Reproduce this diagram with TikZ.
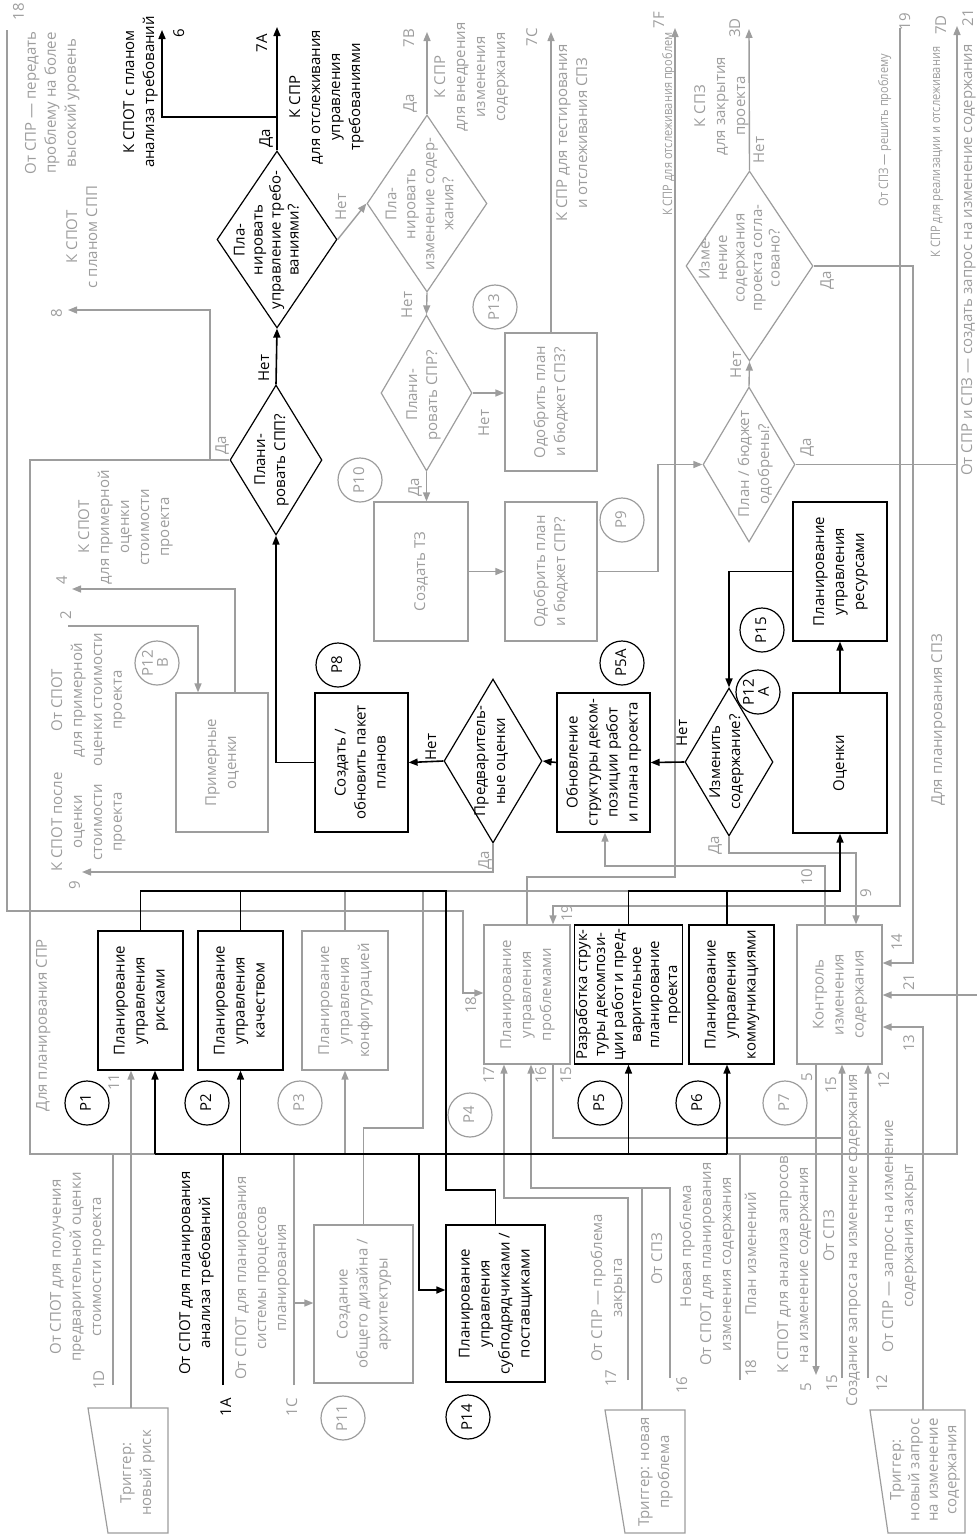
\documentclass[tikz,border=0pt]{standalone}
\usepackage{fontspec}
\setmainfont{Open Sans}
\usepackage{graphicx}
\usetikzlibrary{arrows.meta,shapes.geometric}

\definecolor{gr}{HTML}{9D9D9D}

% text turned to read bottom-to-top
\newcommand{\vt}[2][20pt]{\rotatebox{90}{\fontsize{15}{#1}\selectfont
  \begin{tabular}{@{}c@{}}#2\end{tabular}}}
% narrower text for the crowded top labels
\newcommand{\sm}[1]{\scalebox{0.85}[1]{\fontsize{13}{16}\selectfont #1}}

\tikzset{
  kline/.style={draw=black, line width=1.6pt},
  gline/.style={draw=gr, line width=1.4pt},
  karr/.style={kline, -{Triangle[length=9pt,width=7pt]}},
  garr/.style={gline, -{Triangle[length=9pt,width=7pt]}},
  kbox/.style={draw=black, line width=1.2pt, inner sep=0pt, text=black},
  gbox/.style={draw=gr, line width=1.2pt, inner sep=0pt, text=gr},
  kdia/.style={kbox, diamond},
  gdia/.style={gbox, diamond},
  kcirc/.style={kbox, circle, minimum size=44pt},
  gcirc/.style={gbox, circle, minimum size=44pt},
  gshape/.style={draw=gr, line width=1.2pt},
  ktxt/.style={inner sep=0pt, text=black},
  gtxt/.style={inner sep=0pt, text=gr},
  sz/.style 2 args={minimum width=#1pt, minimum height=#2pt}
}

\begin{document}
\begin{tikzpicture}[x=1pt, y=-1pt]
\useasboundingbox (0,0) rectangle (977,1534);

% Process boxes
\node[kbox, sz={85}{139}] (rsk) at (140.5,1000.5) {\vt{Планирование\\управления\\рисками}};
\node[kbox, sz={85}{139}] (qlt) at (240.5,1000.5) {\vt{Планирование\\управления\\качеством}};
\node[gbox, sz={86}{139}] (cfg) at (345,1000.5) {\vt{Планирование\\управления\\конфигурацией}};
\node[gbox, sz={86}{139}] (prb) at (527,994.5) {\vt{Планирование\\управления\\проблемами}};
\node[kbox, sz={107}{139}] (wbs) at (628.5,994.5) {\vt[18pt]{Разработка струк-\\туры декомпози-\\ции работ и пред-\\варительное\\планирование\\проекта}};
\node[kbox, sz={85}{139}] (com) at (731.5,994.5) {\vt{Планирование\\управления\\коммуникациями}};
\node[gbox, sz={85}{139}] (ctl) at (839.5,994.5) {\vt{Контроль\\изменения\\содержания}};
\node[kbox, sz={94}{140}] (est) at (840,763) {\vt{Оценки}};
\node[kbox, sz={94}{139}] (res) at (840,571.5) {\vt{Планирование\\управления\\ресурсами}};
\node[kbox, sz={93}{139}] (upd) at (603.5,762.5) {\vt{Обновление\\структуры деком-\\позиции работ\\и плана проекта}};
\node[kbox, sz={93}{139}] (pkg) at (361.5,762.5) {\vt{Создать /\\обновить пакет\\планов}};
\node[gbox, sz={92}{139}] (rgh) at (222,762.5) {\vt{Примерные\\оценки}};
\node[gbox, sz={94}{139}] (tz) at (421,571.5) {\vt{Создать ТЗ}};
\node[gbox, sz={92}{139}] (apr) at (551,571.5) {\vt{Одобрить план\\и бюджет СПР?}};
\node[gbox, sz={92}{138}] (apz) at (551,402) {\vt{Одобрить план\\и бюджет СПЗ?}};
\node[kbox, sz={99}{157}] (sub) at (495.5,1303.5) {\vt{Планирование\\управления\\субподрядчиками /\\поставщиками}};
\node[gbox, sz={99}{158}] (dsg) at (363.5,1304) {\vt{Создание\\общего дизайна /\\архитектуры}};

% Decisions
\node[kdia, sz={120}{177}] (dreq) at (277,239.5) {};
\node[ktxt] (dreqt) at (268,240) {\vt[18pt]{Пла-\\нировать\\управление требо-\\ваниями?}};
\node[kdia, sz={92}{150}] (dspp) at (276,460) {};
\node[ktxt] (dsppt) at (271,460) {\vt{Плани-\\ровать СПП?}};
\node[gdia, sz={120}{177}] (dscp) at (427,203.5) {};
\node[gtxt] (dscpt) at (421,204) {\vt[19pt]{Пла-\\нировать\\изменение содер-\\жания?}};
\node[gdia, sz={91}{156}] (dspr) at (426.5,393) {};
\node[gtxt] (dsprt) at (423,395) {\vt{Плани-\\ровать СПР?}};
\node[kdia, sz={98}{164}] (dpre) at (493,761) {};
\node[ktxt] (dpret) at (491,761) {\vt{Предваритель-\\ные оценки}};
\node[kdia, sz={88}{148}] (dchg) at (729,762) {};
\node[ktxt] (dchgt) at (726,762) {\vt{Изменить\\содержание?}};
\node[gdia, sz={92}{155}] (dbud) at (749,464.5) {};
\node[gtxt] (dbudt) at (755,464) {\vt{План / бюджет\\одобрены?}};
\node[gdia, sz={127}{190}] (dagr) at (749.5,266) {};
\node[gtxt] (dagrt) at (741,258) {\vt[17.5pt]{Изме-\\нение\\содержания\\проекта согла-\\совано?}};

% Process numbers
\node[kcirc] (p1) at (87,1103) {\vt{P1}};
\node[kcirc] (p2) at (207,1103) {\vt{P2}};
\node[gcirc] (p3) at (300,1103) {\vt{P3}};
\node[gcirc] (p4) at (470,1115) {\vt{P4}};
\node[kcirc] (p5) at (600,1103) {\vt{P5}};
\node[kcirc] (p6) at (698,1103) {\vt{P6}};
\node[gcirc] (p7) at (785,1103) {\vt{P7}};
\node[kcirc] (p8) at (338,665) {\vt{P8}};
\node[kcirc] (p5a) at (622,663) {\vt{P5A}};
\node[gcirc] (p9) at (622,520) {\vt{P9}};
\node[gcirc] (p10) at (360,480) {\vt{P10}};
\node[gcirc] (p11) at (343,1418) {\vt{P11}};
\node[kcirc] (p12a) at (758,692) {\vt[14pt]{P12\\A}};
\node[gcirc] (p12b) at (157,663) {\vt[14pt]{P12\\B}};
\node[gcirc] (p13) at (495,307) {\vt{P13}};
\node[kcirc] (p14) at (468,1417) {\vt{P14}};
\node[kcirc] (p15) at (762,630) {\vt{P15}};

% Triggers
\draw[gshape] (88,1408) -- (168,1408) -- (168,1533) -- (108,1533) -- cycle;
\node[gtxt] (trg1) at (137,1473) {\vt{Триггер:\\новый риск}};
\draw[gshape] (605,1410) -- (685,1410) -- (685,1533) -- (625,1533) -- cycle;
\node[gtxt] (trg2) at (655,1472) {\vt{Триггер: новая\\проблема}};
\draw[gshape] (870,1410) -- (965,1410) -- (965,1533) -- (888,1533) -- cycle;
\node[gtxt] (trg3) at (925,1470) {\vt[18.5pt]{Триггер:\\новый запрос\\на изменение\\содержания}};
\coordinate (t1top) at (131,1408);
\coordinate (t2top) at (642,1410);
\coordinate (t3top) at (923,1410);

% Connector ends
\coordinate (o6)  at (162,30);
\coordinate (o7A) at (277,27);
\coordinate (o8)  at (68,310);
\coordinate (o4)  at (72,589);
\coordinate (i2)  at (68,626);
\coordinate (o9)  at (82,872);
\coordinate (o7B) at (427,32);
\coordinate (o7C) at (551,32);
\coordinate (o7F) at (675,28);
\coordinate (o3D) at (749,29);
\coordinate (i19) at (900,28);
\coordinate (o7D) at (957,26);
\coordinate (i21) at (977,995);
\coordinate (i18) at (7,30);
\coordinate (i1D) at (113,1385);
\coordinate (i1A) at (223,1385);
\coordinate (i1C) at (294,1385);
\coordinate (i17) at (628,1380);
\coordinate (i16) at (670,1378);
\coordinate (i18b) at (740,1380);
\coordinate (o5)  at (816,1375);
\coordinate (i15) at (842,1378);
\coordinate (i12) at (868,1378);

% Junctions
\coordinate (fA) at (30,1154);
\coordinate (fB) at (957,1154);
\coordinate (busL) at (155,1154);
\coordinate (busR) at (727,1154);
\coordinate (busS) at (419,1154);
\coordinate (colA) at (446,891);
\coordinate (colB) at (446,1190);
\coordinate (colE) at (840,891);
\coordinate (dsgJ) at (423,1128);
\coordinate (j6)  at (277,117);
\coordinate (j8)  at (210,460);
\coordinate (j9)  at (658,571.5);
\coordinate (j14) at (913,266);
\coordinate (j18) at (463,911);
\coordinate (j19) at (553,906);
\coordinate (j7F) at (675,877);
\coordinate (j10) at (825,866);
\coordinate (j9b) at (856,853);
\coordinate (j15) at (842,1138);
\coordinate (j17) at (504,1198);
\coordinate (j16) at (531,1188);
\coordinate (j1C) at (294,1303);

% Gray connectors
\draw[garr] (dspp.west) -| (fA) -- (fB) -- (o7D);
\draw[garr] (j8) |- (o8);
\draw[garr] (dreq.east) -- (dscp.west);
\draw[garr] (dscp.north) -- (o7B);
\draw[garr] (dscp.south) -- (dspr.north);
\draw[garr] (dspr.east) -- (dspr.east -| apz.west);
\draw[garr] (dspr.south) -- (dspr.south |- tz.north);
\draw[garr] (tz.east) -- (apr.west);
\draw[garr] (apr.east) -- (j9) |- (dbud.west);
\draw[garr] (apz.north) -- (o7C);
\draw[garr] (dbud.north) -- (dagr.south);
\draw[garr] (dagr.north) -- (o3D);
\draw[garr] (dagr.east) -- (j14) |- ([yshift=31.5pt]ctl.east);
\draw[gline] (dbud.east) -- (dbud.east -| o7D);
\draw[garr] (i2) -| ([xshift=-24pt]rgh.north);
\draw[garr] ([xshift=13pt]rgh.north) |- (o4);
\draw[garr] (dpre.south) |- (o9);
\draw[garr] (i18) |- (j18) |- ([yshift=1.5pt]prb.west);
\draw[garr] (i19) |- (j19) -- (j19 |- prb.north);
\draw[garr] (prb.north) |- (j7F) -- (o7F);
\draw[garr] (j10 |- ctl.north) -- (j10) -| ([xshift=1.5pt]upd.south);
\draw[garr] (dchg.south) |- (j9b) -- (j9b |- ctl.north);
\draw[garr] (i21) -- (i21 -| ctl.east);
\draw[garr] (t3top) |- ([yshift=-32.5pt]ctl.east);
\draw[garr] ([xshift=26pt]prb.south) |- (j15) -- (j15 |- ctl.south);
\draw[gline] (i15) -- (j15);
\draw[garr] (i12) -- (i12 |- ctl.south);
\draw[garr] (o5 |- ctl.south) -- (o5);
\draw[garr] (i17) |- (j17) -- (j17 |- prb.south);
\draw[garr] (i16) |- (j16) -- (j16 |- prb.south);
\draw[gline] (t2top) -- (t2top |- j16);
\draw[gline] (i18b) -- (i18b |- fA);
\draw[gline] (i1D) -- (i1D |- fA);
\draw[garr] (t1top) -- (t1top |- rsk.south);
\draw[gline] (i1C) -- (i1C |- fA);
\draw[garr] (j1C) -- (j1C -| dsg.west);
\draw[garr] (cfg.south |- fA) -- (cfg.south);
\draw[gline] (cfg.north) |- (wbs.north |- colA);
\draw[gline] (dsg.north) |- (dsgJ) -- (dsgJ |- colA);

% Black connectors
\draw[kline] (i1A) -- (i1A |- busL);
\draw[kline] (busL) -- (busR);
\draw[karr] (busL) -- (busL |- rsk.south);
\draw[karr] (qlt.south |- busL) -- (qlt.south);
\draw[karr] (busS) |- ([yshift=13.5pt]sub.west);
\draw[karr] (wbs.south |- busL) -- (wbs.south);
\draw[karr] (busR) -- (busR |- com.south);
\draw[kline] (rsk.north) |- (colA) -- (colB) -| (sub.north);
\draw[kline] (qlt.north) -- (qlt.north |- colA);
\draw[karr] (wbs.north) |- (colE) -- (est.south);
\draw[kline] (busR |- com.north) -- (busR |- colA);
\draw[karr] (est.north) -- (res.south);
\draw[karr] (res.west) -| (dchg.north);
\draw[karr] (dchg.west) -- (upd.east);
\draw[karr] (upd.west) -- (dpre.east);
\draw[karr] (dpre.west) -- (pkg.east);
\draw[karr] (pkg.west) -| (dspp.south);
\draw[karr] (dspp.north) -- (dreq.south);
\draw[karr] (dreq.north) -- (o7A);
\draw[karr] (j6) -| (o6);

% Labels, top
\node[gtxt] (n18a) at (20,12) {\vt{18}};
\node[gtxt] (tesc) at (52,103) {\vt{От СПР — передать\\проблему на более\\высокий уровень}};
\node[gtxt] (tspp) at (83,237) {\vt{К СПОТ\\с планом СПП}};
\node[gtxt] (n8) at (58,313) {\vt{8}};
\node[ktxt] (treq) at (140,92) {\vt{К СПОТ с планом\\анализа требований}};
\node[ktxt] (n6) at (180,33) {\vt{6}};
\node[ktxt] (ttrk) at (326,97) {\vt{К СПР\\для отслеживания\\управления\\требованиями}};
\node[ktxt] (n7A) at (263,43) {\vt{7A}};
\node[ktxt] (lda1) at (266,138) {\vt{Да}};
\node[ktxt] (lnet1) at (265,368) {\vt{Нет}};
\node[gtxt] (lnet2) at (342,207) {\vt{Нет}};
\node[gtxt] (lda2) at (410,103) {\vt{Да}};
\node[gtxt] (n7B) at (410,38) {\vt{7B}};
\node[gtxt] (tscp) at (471,77) {\vt{К СПР\\для внедрения\\изменения\\содержания}};
\node[gtxt] (lnet3) at (408,305) {\vt{Нет}};
\node[gtxt] (n7C) at (533,37) {\vt{7C}};
\node[gtxt] (ttst) at (573,133) {\vt{К СПР для тестирования\\и отслеживания СПЗ}};
\node[gtxt] (lnet4) at (485,423) {\vt{Нет}};
\node[gtxt] (lda3) at (415,487) {\vt{Да}};
\node[gtxt] (n7F) at (660,20) {\vt{7F}};
\node[gtxt] (tprb) at (668,124) {\vt{\sm{К СПР для отслеживания проблем}}};
\node[gtxt] (n3D) at (736,28) {\vt{3D}};
\node[gtxt] (tcls) at (721,106) {\vt{К СПЗ\\для закрытия\\проекта}};
\node[gtxt] (lnet5) at (760,150) {\vt{Нет}};
\node[gtxt] (lnet6) at (737,365) {\vt{Нет}};
\node[gtxt] (lda4) at (827,280) {\vt{Да}};
\node[gtxt] (n19) at (906,22) {\vt{19}};
\node[gtxt] (tsol) at (884,130) {\vt{\sm{От СПЗ — решить проблему}}};
\node[gtxt] (n7D) at (942,25) {\vt{7D}};
\node[gtxt] (timp) at (936,152) {\vt{\sm{К СПР для реализации и отслеживания}}};
\node[gtxt] (n21) at (969,18) {\vt{21}};
\node[gtxt] (tcr) at (968,260) {\vt{От СПР и СПЗ — создать запрос на изменение содержания}};
\node[gtxt] (lda5) at (807,447) {\vt{Да}};

% Labels, middle
\node[gtxt] (tspz) at (938,720) {\vt{Для планирования СПЗ}};
\node[gtxt] (tspr) at (43,1025) {\vt{Для планирования СПР}};
\node[gtxt] (tro) at (125,527) {\vt{К СПОТ\\для примерной\\оценки\\стоимости\\проекта}};
\node[gtxt] (n4) at (63,580) {\vt{4}};
\node[gtxt] (n2) at (67,615) {\vt{2}};
\node[gtxt] (tri) at (88,700) {\vt{От СПОТ\\для примерной\\оценки стоимости\\проекта}};
\node[gtxt] (lda6) at (222,445) {\vt{Да}};
\node[gtxt] (taft) at (88,822) {\vt{К СПОТ после\\оценки\\стоимости\\проекта}};
\node[gtxt] (n9) at (76,885) {\vt{9}};
\node[ktxt] (lnet7) at (432,747) {\vt{Нет}};
\node[gtxt] (lda7) at (485,860) {\vt{Да}};
\node[ktxt] (lnet8) at (683,733) {\vt{Нет}};
\node[gtxt] (lda8) at (715,845) {\vt{Да}};
\node[gtxt] (n10) at (808,877) {\vt{10}};
\node[gtxt] (n9b) at (867,893) {\vt{9}};
\node[gtxt] (n19b) at (568,913) {\vt{19}};
\node[gtxt] (n18b) at (472,1005) {\vt{18}};
\node[gtxt] (n11) at (115,1082) {\vt{11}};
\node[gtxt] (n17a) at (490,1075) {\vt{17}};
\node[gtxt] (n16a) at (542,1075) {\vt{16}};
\node[gtxt] (n15a) at (567,1075) {\vt{15}};
\node[gtxt] (n14) at (898,942) {\vt{14}};
\node[gtxt] (n21b) at (910,982) {\vt{21}};
\node[gtxt] (n13) at (910,1043) {\vt{13}};
\node[gtxt] (n5a) at (808,1077) {\vt{5}};
\node[gtxt] (n15b) at (832,1085) {\vt{15}};
\node[gtxt] (n12a) at (885,1080) {\vt{12}};

% Labels, bottom
\node[gtxt] (tpre) at (77,1267) {\vt{От СПОТ для получения\\предварительной оценки\\стоимости проекта}};
\node[gtxt] (n1D) at (100,1380) {\vt{1D}};
\node[ktxt] (tan) at (196,1273) {\vt{От СПОТ для планирования\\анализа требований}};
\node[ktxt] (n1A) at (227,1407) {\vt{1A}};
\node[gtxt] (tsys) at (262,1278) {\vt{От СПОТ для планирования\\системы процессов\\планирования}};
\node[gtxt] (n1C) at (293,1407) {\vt{1C}};
\node[gtxt] (tcl) at (608,1288) {\vt{От СПР — проблема\\закрыта}};
\node[gtxt] (n17b) at (612,1378) {\vt{17}};
\node[gtxt] (tfz) at (658,1259) {\vt{От СПЗ}};
\node[gtxt] (n16b) at (683,1385) {\vt{16}};
\node[gtxt] (tnew) at (687,1246) {\vt{Новая проблема}};
\node[gtxt] (tchg) at (717,1264) {\vt{От СПОТ для планирования\\изменения содержания}};
\node[gtxt] (n18c) at (752,1368) {\vt{18}};
\node[gtxt] (tpl) at (752,1254) {\vt{План изменений}};
\node[gtxt] (tanl) at (794,1265) {\vt{К СПОТ для анализа запросов\\на изменение содержания}};
\node[gtxt] (n5b) at (807,1387) {\vt{5}};
\node[gtxt] (tfz2) at (830,1236) {\vt{От СПЗ}};
\node[gtxt] (n15c) at (833,1383) {\vt{15}};
\node[gtxt] (tcrt) at (853,1240) {\vt{Создание запроса на изменение содержания}};
\node[gtxt] (n12b) at (883,1383) {\vt{12}};
\node[gtxt] (tcls2) at (899,1236) {\vt{От СПР — запрос на изменение\\содержания закрыт}};
\end{tikzpicture}
\end{document}
